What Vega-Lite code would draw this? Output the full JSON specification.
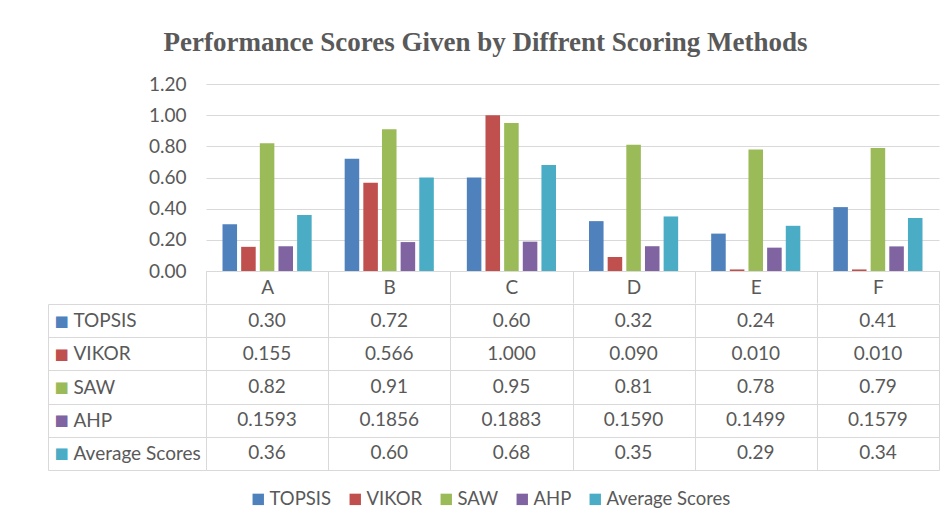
{
  "$schema": "https://vega.github.io/schema/vega-lite/v6.json",
  "padding": {"left": 47, "top": 29, "right": 13, "bottom": 5},
  "title": {"text": "Performance Scores Given by Diffrent Scoring Methods", "font": "Liberation Serif", "fontSize": 27, "fontWeight": "bold", "color": "#595959", "anchor": "middle", "offset": 18, "dx": -8},
  "config": {
    "view": {"stroke": null},
    "font": "Lato",
    "axis": {"labelFont": "Lato", "labelFontSize": 19, "labelColor": "#595959", "gridColor": "#D9D9D9", "domainColor": "#D9D9D9", "tickColor": "#D9D9D9"},
    "legend": {"labelFont": "Lato", "labelFontSize": 18.5, "labelColor": "#595959"}
  },
  "data": {"values": [
    {"category": "A", "series": "TOPSIS", "value": 0.30},
    {"category": "A", "series": "VIKOR", "value": 0.155},
    {"category": "A", "series": "SAW", "value": 0.82},
    {"category": "A", "series": "AHP", "value": 0.1593},
    {"category": "A", "series": "Average Scores", "value": 0.36},
    {"category": "B", "series": "TOPSIS", "value": 0.72},
    {"category": "B", "series": "VIKOR", "value": 0.566},
    {"category": "B", "series": "SAW", "value": 0.91},
    {"category": "B", "series": "AHP", "value": 0.1856},
    {"category": "B", "series": "Average Scores", "value": 0.60},
    {"category": "C", "series": "TOPSIS", "value": 0.60},
    {"category": "C", "series": "VIKOR", "value": 1.000},
    {"category": "C", "series": "SAW", "value": 0.95},
    {"category": "C", "series": "AHP", "value": 0.1883},
    {"category": "C", "series": "Average Scores", "value": 0.68},
    {"category": "D", "series": "TOPSIS", "value": 0.32},
    {"category": "D", "series": "VIKOR", "value": 0.090},
    {"category": "D", "series": "SAW", "value": 0.81},
    {"category": "D", "series": "AHP", "value": 0.1590},
    {"category": "D", "series": "Average Scores", "value": 0.35},
    {"category": "E", "series": "TOPSIS", "value": 0.24},
    {"category": "E", "series": "VIKOR", "value": 0.010},
    {"category": "E", "series": "SAW", "value": 0.78},
    {"category": "E", "series": "AHP", "value": 0.1499},
    {"category": "E", "series": "Average Scores", "value": 0.29},
    {"category": "F", "series": "TOPSIS", "value": 0.41},
    {"category": "F", "series": "VIKOR", "value": 0.010},
    {"category": "F", "series": "SAW", "value": 0.79},
    {"category": "F", "series": "AHP", "value": 0.1579},
    {"category": "F", "series": "Average Scores", "value": 0.34}
  ]},
  "spacing": -10,
  "vconcat": [
    {
      "width": 733,
      "height": 187,
      "mark": {"type": "bar"},
      "encoding": {
        "x": {"field": "category", "type": "nominal", "scale": {"type": "band", "paddingInner": 0, "paddingOuter": 0},
              "axis": {"title": null, "labelAngle": 0, "tickBand": "extent", "tickSize": 32, "labelPadding": -25, "grid": false}},
        "xOffset": {"field": "series", "type": "nominal", "sort": ["TOPSIS", "VIKOR", "SAW", "AHP", "Average Scores"], "scale": {"paddingInner": 0.22, "paddingOuter": 0.885}},
        "y": {"field": "value", "type": "quantitative", "scale": {"domain": [0, 1.2], "nice": false},
              "axis": {"title": null, "values": [0, 0.2, 0.4, 0.6, 0.8, 1.0, 1.2], "format": ".2f", "domain": false, "ticks": false, "labelPadding": 20}},
        "color": {"field": "series", "type": "nominal",
                  "scale": {"domain": ["TOPSIS", "VIKOR", "SAW", "AHP", "Average Scores"], "range": ["#4F81BD", "#C0504D", "#9BBB59", "#8064A2", "#4BACC6"]},
                  "legend": {"title": null, "orient": "none", "direction": "horizontal", "legendX": 43, "legendY": 406, "symbolType": "square", "symbolSize": 130, "symbolStrokeWidth": 0, "labelOffset": 2, "columnPadding": 14, "padding": 0}}
      }
    },
    {
      "width": 733,
      "height": 166,
      "transform": [
        {"calculate": "datum.series === 'VIKOR' ? format(datum.value, '.3f') : (datum.series === 'AHP' ? format(datum.value, '.4f') : format(datum.value, '.2f'))", "as": "label"}
      ],
      "layer": [
        {
          "mark": {"type": "text", "fontSize": 19, "color": "#595959", "font": "Lato"},
          "encoding": {
            "x": {"field": "category", "type": "nominal", "scale": {"type": "band", "paddingInner": 0, "paddingOuter": 0},
                  "axis": {"title": null, "labels": false, "ticks": false, "domain": false, "grid": true, "tickBand": "extent"}},
            "y": {"field": "series", "type": "nominal", "sort": ["TOPSIS", "VIKOR", "SAW", "AHP", "Average Scores"], "scale": {"type": "band", "paddingInner": 0, "paddingOuter": 0},
                  "axis": {"title": null, "orient": "left", "offset": 158, "ticks": false, "tickSize": 0, "domain": true, "grid": true, "tickBand": "extent", "labelAlign": "left", "labelPadding": -25}},
            "text": {"field": "label"}
          }
        },
        {
          "mark": {"type": "point", "opacity": 0},
          "encoding": {
            "y": {"field": "series", "type": "nominal", "sort": ["TOPSIS", "VIKOR", "SAW", "AHP", "Average Scores"], "scale": {"type": "band", "paddingInner": 0, "paddingOuter": 0},
                  "axis": {"title": null, "orient": "left", "offset": 158, "ticks": false, "tickSize": 0, "domain": false, "grid": false, "labelAlign": "left", "labelPadding": -6,
                           "labelExpr": "'■'", "labelFont": "DejaVu Sans", "labelFontSize": 15,
                           "labelColor": {"condition": [
                             {"test": "datum.value === 'TOPSIS'", "value": "#4F81BD"},
                             {"test": "datum.value === 'VIKOR'", "value": "#C0504D"},
                             {"test": "datum.value === 'SAW'", "value": "#9BBB59"},
                             {"test": "datum.value === 'AHP'", "value": "#8064A2"}
                           ], "value": "#4BACC6"}}}
          }
        },
        {
          "mark": {"type": "point", "opacity": 0},
          "encoding": {
            "y": {"field": "series", "type": "nominal", "sort": ["TOPSIS", "VIKOR", "SAW", "AHP", "Average Scores"], "scale": {"type": "band", "paddingInner": 0, "paddingOuter": 0},
                  "axis": {"title": null, "orient": "left", "offset": 158, "ticks": true, "tickSize": -158, "tickBand": "extent", "domain": false, "grid": false, "labels": false}}
          }
        }
      ],
      "resolve": {"axis": {"y": "independent"}}
    }
  ]
}
